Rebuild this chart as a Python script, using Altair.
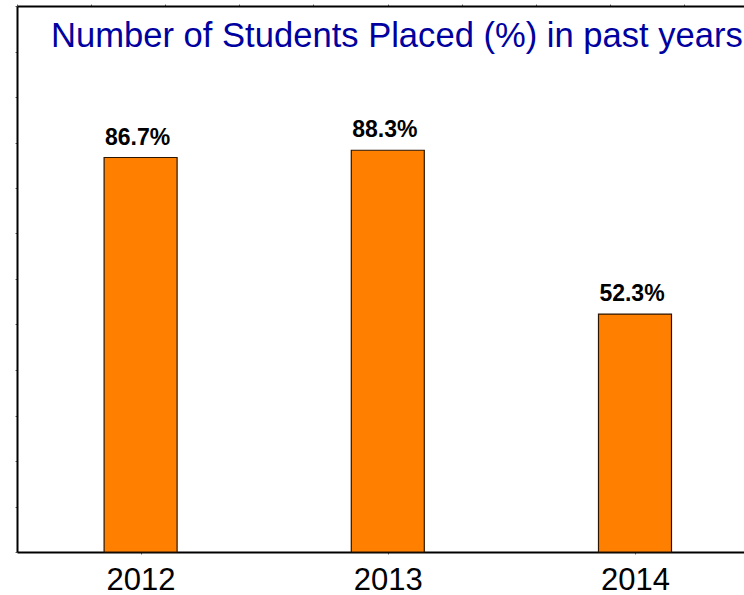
import altair as alt
import pandas as pd

years = [2012, 2013, 2014]
placed = [86.7, 88.3, 52.3]
labels = ["86.7%", "88.3%", "52.3%"]
y_ticks = list(range(0, 121, 10))
top_ticks = list(range(0, 10))
title_text = ["Number of Students Placed (%) in past years"]

df = pd.DataFrame({"year": years, "placed": placed, "label": labels})
df_top = pd.DataFrame({"t": top_ticks})
df_title = pd.DataFrame({"title": title_text})

FONT = "Liberation Sans"
xscale = alt.Scale(domain=[2011.5, 2014.441], nice=False, zero=False, padding=0)

x_axis = alt.Axis(values=years, format="d", title=None, grid=False,
                  domainColor="black", domainWidth=2, tickSize=2, tickColor="#666666",
                  labelFont=FONT, labelFontSize=31, labelColor="black",
                  labelBaseline="alphabetic", labelPadding=35)
y_axis = alt.Axis(values=y_ticks, labels=False, title=None, grid=False,
                  domainColor="black", domainWidth=2, tickSize=2, tickColor="#666666")

bars = alt.Chart(df).mark_bar(size=73, color="#FF8000", stroke="#2b1400", strokeWidth=1.2).encode(
    x=alt.X("year:Q", scale=xscale, axis=x_axis),
    y=alt.Y("placed:Q", scale=alt.Scale(domain=[0, 120], nice=False, padding=0), axis=y_axis),
)
text = alt.Chart(df).mark_text(font=FONT, fontSize=23, fontWeight="bold", color="black",
                               baseline="alphabetic", dy=-13, dx=-3).encode(
    x=alt.X("year:Q"),
    y=alt.Y("placed:Q"),
    text="label:N",
)
inner = alt.layer(bars, text)

top = alt.Chart(df_top).mark_tick(opacity=0).encode(
    x=alt.X("t:Q", scale=alt.Scale(domain=[0, 9.811], nice=False, zero=False, padding=0),
            axis=alt.Axis(orient="top", values=top_ticks, labels=False, title=None, grid=False,
                          domainColor="black", domainWidth=2, tickSize=2, tickColor="#666666")),
)

title = alt.Chart(df_title).mark_text(font=FONT, fontSize=34.6, color="#0000A0", align="left",
                                      baseline="alphabetic").encode(
    x=alt.value(34), y=alt.value(41), text="title:N")

chart = alt.layer(inner, top, title).resolve_scale(x="independent").resolve_axis(x="independent").properties(
    width=727, height=546,
    padding={"left": 17, "top": 6, "right": 0, "bottom": 40},
    autosize="none",
).configure_view(stroke=None).configure(background="white")

chart.save("out.html", embed_options={"renderer": "svg", "actions": False})
